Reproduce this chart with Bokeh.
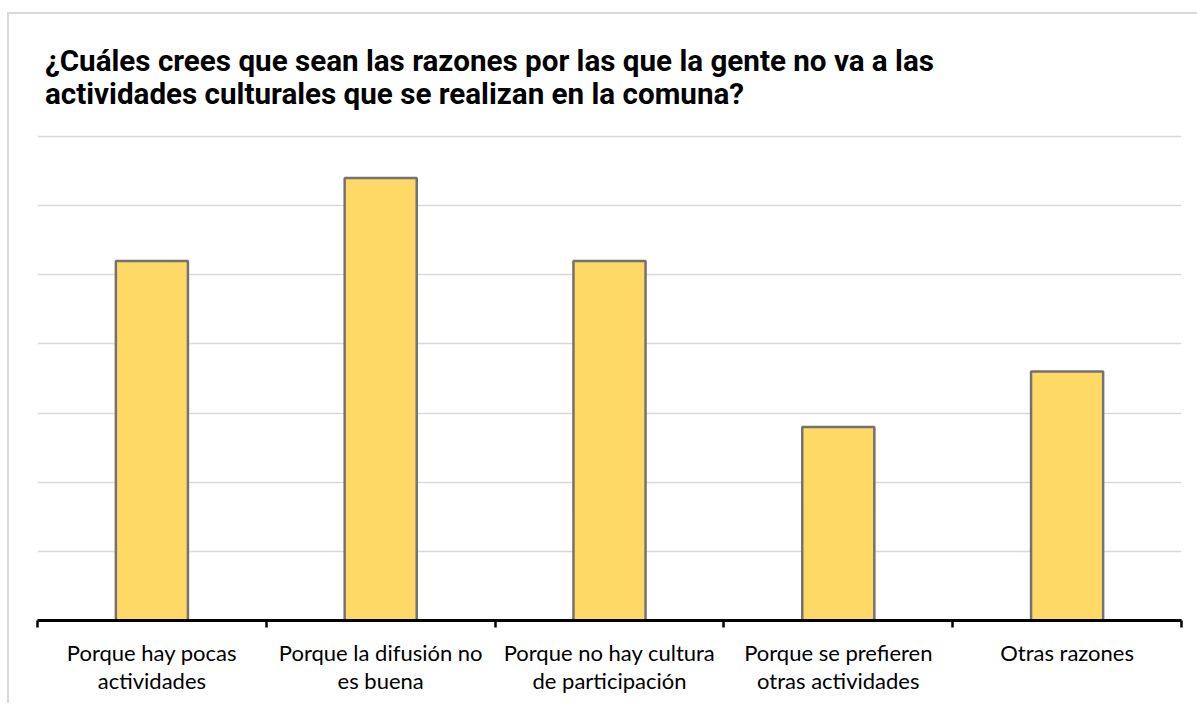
from bokeh.plotting import figure
from bokeh.models import FixedTicker, Range1d, Div
from bokeh.layouts import column
from bokeh.embed import file_html
from bokeh.resources import INLINE

categories = [
    "Porque hay pocas\nactividades",
    "Porque la difusión no\nes buena",
    "Porque no hay cultura\nde participación",
    "Porque se prefieren\notras actividades",
    "Otras razones",
]
values = [13, 16, 13, 7, 9]
title_lines = [
    "¿Cuáles crees que sean las razones por las que la gente no va a las",
    "actividades culturales que se realizan en la comuna?",
]

W = 1188
DIV_H = 100
H = 589
YMAX = 17.5
frame_h = 484
pad_units = 2 * YMAX / frame_h  # keep top gridline inside plot area

title = Div(
    text=('<div style="font-family:Roboto;font-weight:bold;font-size:29.6px;line-height:32.5px;'
          'color:black;padding:31px 0 0 36px;white-space:nowrap;">'
          + "<br>".join(title_lines) + "</div>"),
    width=W, height=DIV_H, margin=0)

p = figure(width=W, height=H, output_backend="svg", toolbar_location=None,
           x_range=Range1d(0, len(categories)), y_range=Range1d(0, YMAX + pad_units),
           min_border_left=28, min_border_right=16, min_border_top=20, min_border_bottom=83,
           margin=0)

xs = [i + 0.5 for i in range(len(categories))]
p.vbar(x=xs, top=values, width=0.315, fill_color="#FFD966", line_color="#767171", line_width=2.5)

p.outline_line_color = None
p.yaxis.visible = False
p.xgrid.grid_line_color = None
p.ygrid.ticker = FixedTicker(ticks=[2.5 * i for i in range(1, 8)])
p.ygrid.grid_line_color = "#d9d9d9"
p.ygrid.grid_line_width = 1.5

ax = p.xaxis[0]
ax.ticker = FixedTicker(ticks=xs, minor_ticks=list(range(len(categories) + 1)))
ax.major_label_overrides = {x: c for x, c in zip(xs, categories)}
ax.major_tick_out = 0
ax.major_tick_in = 0
ax.minor_tick_out = 7
ax.minor_tick_in = 0
ax.minor_tick_line_color = "black"
ax.minor_tick_line_width = 2.5
ax.axis_line_color = "black"
ax.axis_line_width = 3
ax.major_label_text_font = "Lato"
ax.major_label_text_font_size = "22px"
ax.major_label_text_color = "black"
ax.major_label_standoff = 11
ax.major_label_text_line_height = 1.05

layout = column(title, p, spacing=0, margin=0)
layout.styles = {"border-top": "2px solid #d9d9d9", "border-left": "2px solid #d9d9d9",
                 "margin-top": "12px", "margin-left": "7px"}

open("out.html", "w").write(file_html(layout, INLINE))
